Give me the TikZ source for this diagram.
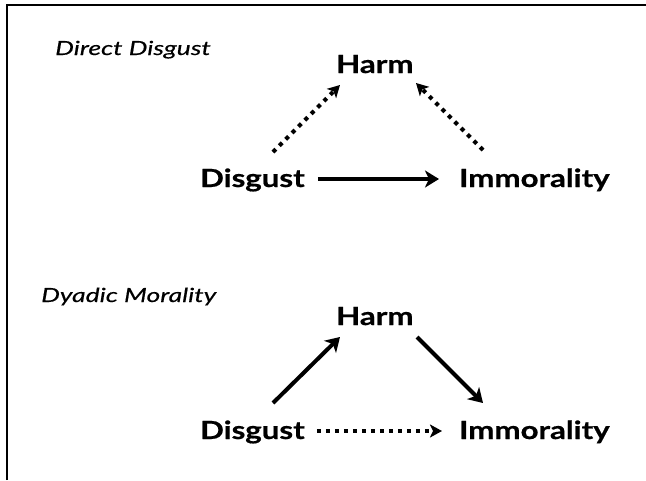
\documentclass[tikz,border=0pt]{standalone}
\usepackage{fontspec}
\setmainfont{Lato}
\newfontfamily\conceptfont{Lato}[FakeStretch=1.25, FakeBold=0.6]
\newfontfamily\panelfont{Lato}[FakeStretch=1.36, FakeBold=0.4]
\usetikzlibrary{positioning, arrows.meta, calc}

\begin{document}
\begin{tikzpicture}[
    x=1pt, y=-1pt,
    frame/.style={black, line width=2pt},
    concept/.style={font=\conceptfont\bfseries\fontsize{25}{30}\selectfont, inner sep=0pt, anchor=base west},
    panel/.style={font=\panelfont\itshape\fontsize{19.5}{23}\selectfont, inner sep=0pt, anchor=base west},
    link/.style={black, line width=4pt, -{Stealth[length=14pt, width=17pt, inset=4pt]}},
    weaklink/.style={black, line width=4.2pt, dash pattern=on 4pt off 5pt, -{Stealth[length=12pt, width=13pt, inset=3pt]}}
]
\useasboundingbox (0,0) rectangle (646,480);

% frame
\draw[frame] (7,480) -- (7,5) -- (646,5);

% Direct Disgust
\node[panel] (titleA) at (55,55) {Direct Disgust};
\node[concept] (harmA) at (336,73) {Harm};
\node[concept] (disgA) at (200,187) {Disgust};
\node[concept] (immA) at (459,187) {Immorality};

\draw[weaklink] ($(disgA.base west)+(73,-35)$) -- ($(harmA.base west)+(4,12)$);
\draw[weaklink] ($(immA.base west)+(24,-37)$) -- ($(harmA.base west)+(80,10)$);
\draw[link] ($(disgA.base east)+(13,-8)$) -- ($(immA.base west)+(-20,-8)$);

% Dyadic Morality
\node[panel] (titleB) at (41,302) {Dyadic Morality};
\node[concept] (harmB) at (336,325) {Harm};
\node[concept] (disgB) at (200,439) {Disgust};
\node[concept] (immB) at (459,439) {Immorality};

\draw[link] ($(disgB.base west)+(73,-36)$) -- ($(harmB.base west)+(4,12)$);
\draw[link] ($(harmB.base west)+(81,12)$) -- ($(immB.base west)+(24,-36)$);
\draw[weaklink] ($(disgB.base east)+(12,-8)$) -- ($(immB.base west)+(-17,-8)$);

\end{tikzpicture}
\end{document}
